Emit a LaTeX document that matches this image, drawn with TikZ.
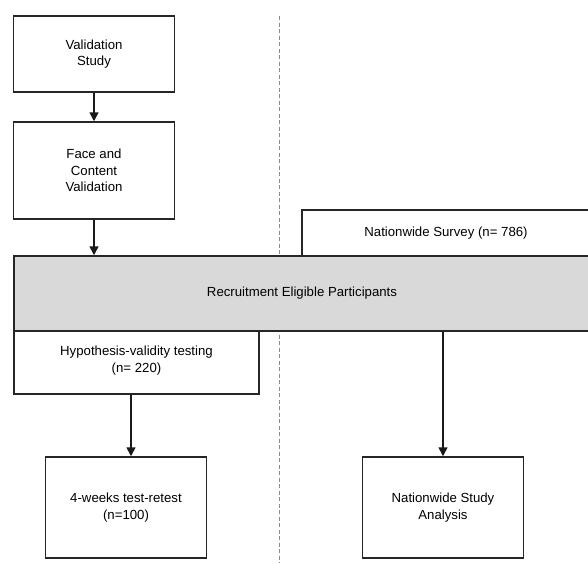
\documentclass[tikz,border=0pt]{standalone}
\usepackage{fontspec}
\setmainfont{Liberation Sans}
\usetikzlibrary{arrows.meta, positioning, calc}
\definecolor{bandGray}{HTML}{D9D9D9}
\definecolor{dividerGray}{HTML}{8C8C8C}

\begin{document}
\begin{tikzpicture}[x=1pt, y=-1pt,
  stagebox/.style={draw=black!85, line width=1.5pt, fill=white, align=center,
              inner sep=2pt, font=\fontsize{13.2}{16.7}\selectfont},
  band/.style={stagebox, fill=bandGray},
  fwd/.style={-{Triangle[length=9pt, width=9pt]}, draw=black!90, line width=1.5pt},
  divider/.style={draw=dividerGray, line width=1pt, dash pattern=on 4pt off 2.5pt},
]
\useasboundingbox (0,0) rectangle (588,563);

% --- divider between the two studies ---
\coordinate (divtop) at (279,16);
\coordinate (divbot) at (279,563);
\draw[divider] (divtop) -- (divbot);

% --- validation study (left) ---
\node[stagebox, minimum width=161pt, minimum height=76pt] (val)  at (94,54)    {Validation\\Study};
\node[stagebox, minimum width=161pt, minimum height=97pt] (face) at (94,170.5) {Face and\\Content\\Validation};

% --- nationwide survey and shared recruitment ---
\node[stagebox, minimum width=288pt, minimum height=46pt] (survey) at (446,233)   {Nationwide Survey (n= 786)};
\node[band,     minimum width=576pt, minimum height=75pt] (recruit) at (302,293.5) {Recruitment Eligible Participants};

% --- outcomes ---
\node[stagebox, minimum width=245pt, minimum height=63pt, text depth=6pt] (hyp) at (136.5,362.5) {Hypothesis-validity testing\\(n= 220)};
\node[stagebox, minimum width=161pt, minimum height=101pt] (retest)   at (126,507.5)   {4-weeks test-retest\\(n=100)};
\node[stagebox, minimum width=161pt, minimum height=101pt] (analysis) at (443,507.5) {Nationwide Study\\Analysis};

% --- arrows ---
\draw[fwd] (val) -- (face);
\draw[fwd] (face.south) -- (face.south |- recruit.north);
\draw[fwd] ([xshift=5pt]retest.north |- hyp.south) -- ([xshift=5pt]retest.north);
\draw[fwd] (analysis.north |- recruit.south) -- (analysis.north);
\end{tikzpicture}
\end{document}
